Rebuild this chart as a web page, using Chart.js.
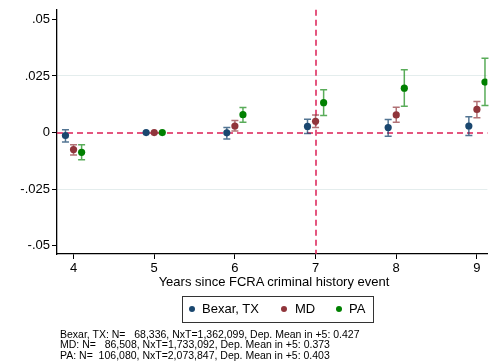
<!DOCTYPE html>
<html>
<head>
<meta charset="utf-8">
<script src="https://cdn.jsdelivr.net/npm/chart.js@4"></script>
<style>
  html, body { margin: 0; padding: 0; background: #fff; }
  #wrap { position: relative; width: 491px; height: 364px; overflow: hidden; font-family: "Liberation Sans", Arial, sans-serif; color: #000; }
  #c { position: absolute; left: 0; top: 0; }
  #xtitle { position: absolute; left: 57px; width: 434px; top: 274px; text-align: center; font-size: 13px; line-height: 16px; }
  #legend { position: absolute; left: 182px; top: 296px; width: 190px; height: 25px; border: 1px solid #333; box-sizing: content-box; font-size: 13px; }
  .li { position: absolute; top: 4px; line-height: 16px; white-space: nowrap; }
  .dot { position: absolute; top: 5px; width: 6px; height: 6px; border-radius: 50%; }
  #foot { position: absolute; left: 60px; top: 328.5px; font-size: 10.5px; line-height: 10.5px; white-space: pre; }
</style>
</head>
<body>
<div id="wrap">
  <canvas id="c" width="491" height="364"></canvas>
  <div id="xtitle"></div>
  <div id="legend"></div>
  <div id="foot"></div>
</div>
<script>
// ---- data ----
const years = [4, 5, 6, 7, 8, 9];
const seriesNames = ["Bexar, TX", "MD", "PA"];
const bexar   = [-0.0013, 0, -0.0001, 0.0027, 0.0022, 0.0029];
const bexarLo = [-0.0042, null, -0.0028, -0.0004, -0.0016, -0.0013];
const bexarHi = [0.0013, null, 0.0022, 0.0059, 0.0058, 0.0070];
const md      = [-0.0075, 0, 0.0029, 0.0050, 0.0078, 0.0102];
const mdLo    = [-0.0099, null, 0.0007, 0.0022, 0.0046, 0.0065];
const mdHi    = [-0.0054, null, 0.0053, 0.0078, 0.0112, 0.0137];
const pa      = [-0.0087, 0, 0.0079, 0.0132, 0.0196, 0.0223];
const paLo    = [-0.0120, null, 0.0046, 0.0075, 0.0116, 0.0120];
const paHi    = [-0.0054, null, 0.0111, 0.0189, 0.0277, 0.0328];
const yTicks = [-0.05, -0.025, 0, 0.025, 0.05];
const yTickLabels = ["-.05", "-.025", "0", ".025", ".05"];
const xTitle = "Years since FCRA criminal history event";
const footLines = [
  "Bexar, TX: N=   68,336, NxT=1,362,099, Dep. Mean in +5: 0.427",
  "MD: N=   86,508, NxT=1,733,092, Dep. Mean in +5: 0.373",
  "PA: N=  106,080, NxT=2,073,847, Dep. Mean in +5: 0.403"
];
const eventYear = 7;

// ---- styles ----
const offsets = [-0.1, 0, 0.1];
const colors = ["#1a476f", "#90353b", "#008000"];
const barColors = ["rgba(26,71,111,0.75)", "rgba(144,53,59,0.7)", "rgba(0,128,0,0.65)"];
const refColor = "#dc1f55";

const vals = [bexar, md, pa];
const los = [bexarLo, mdLo, paLo];
const his = [bexarHi, mdHi, paHi];

const datasets = seriesNames.map((name, s) => ({
  label: name,
  data: years.map((yr, i) => ({ x: yr + offsets[s], y: vals[s][i], lo: los[s][i], hi: his[s][i] })),
  backgroundColor: colors[s],
  borderColor: colors[s],
  borderWidth: 0,
  pointRadius: 3.6,
  pointHoverRadius: 3.6,
  showLine: false
}));

const refAndBars = {
  id: 'refAndBars',
  beforeDatasetsDraw(chart) {
    const { ctx, chartArea: a, scales: { x, y } } = chart;
    ctx.save();
    // reference lines
    ctx.strokeStyle = refColor;
    ctx.lineWidth = 1.5;
    ctx.setLineDash([6, 4]);
    const y0 = Math.round(y.getPixelForValue(0));
    ctx.beginPath(); ctx.moveTo(a.left, y0); ctx.lineTo(a.right, y0); ctx.stroke();
    const x7 = Math.round(x.getPixelForValue(eventYear));
    ctx.beginPath(); ctx.moveTo(x7, a.top); ctx.lineTo(x7, a.bottom); ctx.stroke();
    ctx.setLineDash([]);
    // error bars
    chart.data.datasets.forEach((ds, s) => {
      ctx.strokeStyle = barColors[s];
      ctx.lineWidth = 1.5;
      ds.data.forEach(p => {
        if (p.lo == null || p.hi == null) return;
        const px = x.getPixelForValue(p.x);
        const pl = y.getPixelForValue(p.lo);
        const ph = y.getPixelForValue(p.hi);
        ctx.beginPath();
        ctx.moveTo(px, pl); ctx.lineTo(px, ph);
        ctx.moveTo(px - 3.5, pl); ctx.lineTo(px + 3.5, pl);
        ctx.moveTo(px - 3.5, ph); ctx.lineTo(px + 3.5, ph);
        ctx.stroke();
      });
    });
    ctx.restore();
  }
};

const font = { family: "'Liberation Sans', Arial, sans-serif", size: 13 };

new Chart(document.getElementById('c'), {
  type: 'scatter',
  data: { datasets },
  options: {
    responsive: false,
    devicePixelRatio: 1,
    animation: false,
    events: [],
    layout: { padding: { left: 0, right: 0, top: 6, bottom: 86 } },
    plugins: { legend: { display: false }, tooltip: { enabled: false } },
    scales: {
      x: {
        type: 'linear',
        min: 3.795, max: 9.13,
        afterBuildTicks: s => { s.ticks = years.map(v => ({ value: v })); },
        afterFit: s => { s.height = 24; },
        grid: { drawOnChartArea: false, drawTicks: true, tickLength: 5, tickColor: '#000', tickWidth: 1 },
        border: { display: true, color: '#000', width: 1.3 },
        ticks: { font, color: '#000', padding: 2, maxRotation: 0, callback: v => String(v) }
      },
      y: {
        type: 'linear',
        min: -0.0536, max: 0.0542,
        afterBuildTicks: s => { s.ticks = yTicks.map(v => ({ value: v })); },
        afterFit: s => { s.width = 57; },
        grid: {
          drawOnChartArea: true, drawTicks: true, tickLength: 5, tickColor: '#000', tickWidth: 1,
          color: c => (c.tick && Math.abs(Math.abs(c.tick.value) - 0.025) < 1e-9) ? '#e4eded' : 'rgba(255,255,255,0)',
          lineWidth: 1
        },
        border: { display: true, color: '#000', width: 1.3 },
        ticks: {
          font, color: '#000', padding: 2,
          callback: (v) => { const i = yTicks.findIndex(t => Math.abs(t - v) < 1e-9); return i >= 0 ? yTickLabels[i] : ''; }
        }
      }
    }
  },
  plugins: [refAndBars]
});

// ---- text below plot ----
document.getElementById('xtitle').textContent = xTitle;
const lg = document.getElementById('legend');
const legendPos = [{ dot: 6, text: 19 }, { dot: 98, text: 112 }, { dot: 153, text: 166 }];
seriesNames.forEach((n, s) => {
  const d = document.createElement('div');
  d.className = 'dot'; d.style.left = legendPos[s].dot + 'px'; d.style.background = colors[s];
  d.style.top = '9px';
  lg.appendChild(d);
  const t = document.createElement('div');
  t.className = 'li'; t.style.left = legendPos[s].text + 'px'; t.textContent = n;
  lg.appendChild(t);
});
document.getElementById('foot').textContent = footLines.join("\n");
</script>
</body>
</html>
